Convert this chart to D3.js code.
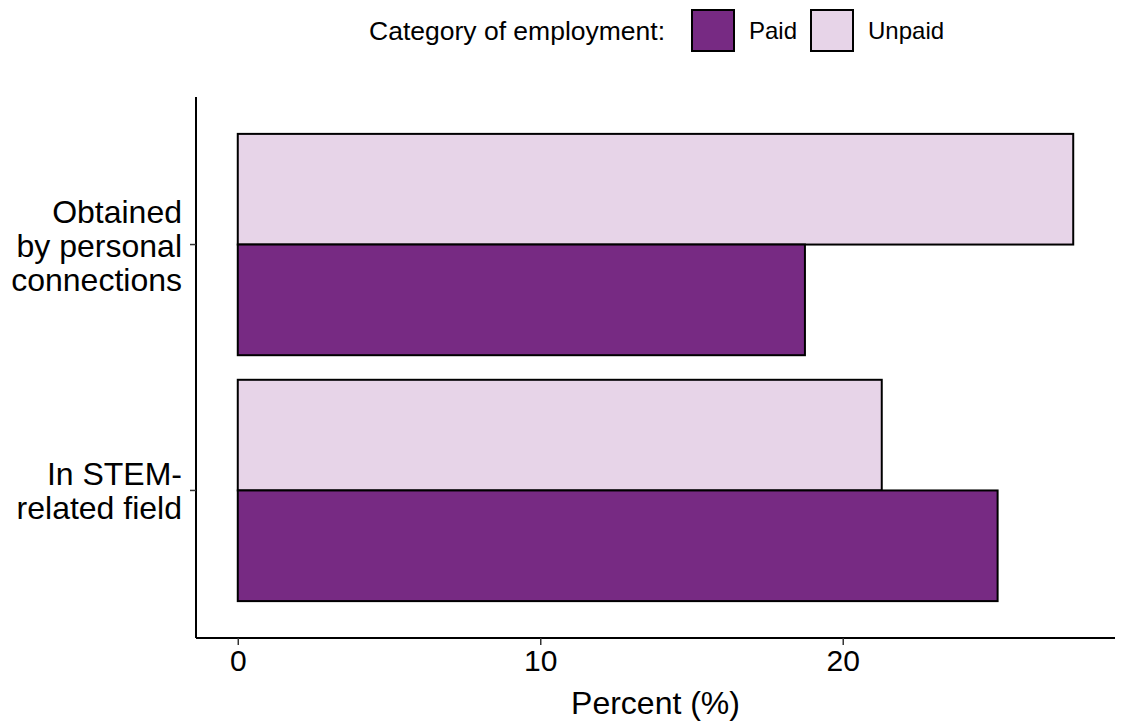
<!DOCTYPE html>
<html>
<head>
<meta charset="utf-8">
<script src="https://cdn.jsdelivr.net/npm/d3@7"></script>
<style>
  body { margin: 0; background: #fff; }
  text { font-family: "Liberation Sans", Arial, sans-serif; fill: #000; }
</style>
</head>
<body>
<svg id="chart"></svg>
<script>
const width = 1122;
const height = 721;

// data
const categories = ["Obtained\nby personal\nconnections", "In STEM-\nrelated field"];
const groups = ["Unpaid", "Paid"];
const paidValues = [18.75, 25.12];
const unpaidValues = [27.62, 21.29];
const xTicks = [0, 10, 20];
const legendKeys = ["Paid", "Unpaid"];

const colors = { Paid: "#772a83", Unpaid: "#e7d4e8" };

const margin = { top: 97, right: 7, bottom: 83, left: 196 };

const svg = d3.select("#chart")
    .attr("width", width)
    .attr("height", height);

const rows = [];
categories.forEach((c, i) => {
    rows.push({ cat: c, group: "Unpaid", value: unpaidValues[i] });
    rows.push({ cat: c, group: "Paid", value: paidValues[i] });
});

const maxVal = d3.max(rows, d => d.value);
const xScale = d3.scaleLinear()
    .domain([-maxVal * 0.05, maxVal * 1.05])
    .range([margin.left, width - margin.right]);

// ggplot-like discrete expansion (0.6 units each side, bar width 0.9)
const yScale = d3.scaleBand()
    .domain(categories)
    .range([margin.top, height - margin.bottom])
    .paddingInner(0.1)
    .paddingOuter(0.15);

const ySub = d3.scaleBand()
    .domain(groups)
    .range([0, yScale.bandwidth()]);

// bars
svg.selectAll(".bar")
    .data(rows)
    .enter()
    .append("rect")
    .attr("class", "bar")
    .attr("x", xScale(0))
    .attr("y", d => yScale(d.cat) + ySub(d.group))
    .attr("width", d => xScale(d.value) - xScale(0))
    .attr("height", ySub.bandwidth())
    .style("fill", d => colors[d.group])
    .style("stroke", "#000")
    .style("stroke-width", 2);

// x axis
const xAxis = d3.axisBottom(xScale).tickValues(xTicks).tickSize(7).tickPadding(5);
const gx = svg.append("g")
    .attr("transform", `translate(0, ${height - margin.bottom})`)
    .call(xAxis);
gx.select(".domain").attr("stroke-width", 2).attr("d", `M${margin.left},0H${width - margin.right}`);
gx.selectAll(".tick line").attr("stroke-width", 1.5).attr("stroke", "#333");
gx.selectAll(".tick text").style("font-size", "30px").attr("fill", "#000");

// y axis
const yAxis = d3.axisLeft(yScale).tickSize(6).tickFormat("");
const gy = svg.append("g")
    .attr("transform", `translate(${margin.left}, 0)`)
    .call(yAxis);
gy.select(".domain").attr("stroke-width", 2).attr("d", `M0,${margin.top}V${height - margin.bottom}`);
gy.selectAll(".tick line").attr("stroke-width", 1.5).attr("stroke", "#333");

// category labels (multiline)
categories.forEach(c => {
    const lines = c.split("\n");
    const cy = yScale(c) + yScale.bandwidth() / 2;
    const lh = 34;
    const t = svg.append("text")
        .attr("text-anchor", "end")
        .style("font-size", "32px");
    lines.forEach((l, j) => {
        t.append("tspan")
            .attr("x", margin.left - 14)
            .attr("y", cy + (j - (lines.length - 1) / 2) * lh + 12)
            .text(l);
    });
});

// axis title
svg.append("text")
    .attr("x", (xScale.range()[0] + xScale.range()[1]) / 2)
    .attr("y", 714)
    .attr("text-anchor", "middle")
    .style("font-size", "32px")
    .text("Percent (%)");

// legend
const legend = svg.append("g");
legend.append("text")
    .attr("x", 369)
    .attr("y", 40)
    .style("font-size", "26.5px")
    .text("Category of employment:");

const keyX = [692, 811];
legendKeys.forEach((k, i) => {
    legend.append("rect")
        .attr("x", keyX[i])
        .attr("y", 10)
        .attr("width", 42)
        .attr("height", 41)
        .style("fill", colors[k])
        .style("stroke", "#000")
        .style("stroke-width", 2);
    legend.append("text")
        .attr("x", keyX[i] + 57)
        .attr("y", 39)
        .style("font-size", "24px")
        .text(k);
});
</script>
</body>
</html>
